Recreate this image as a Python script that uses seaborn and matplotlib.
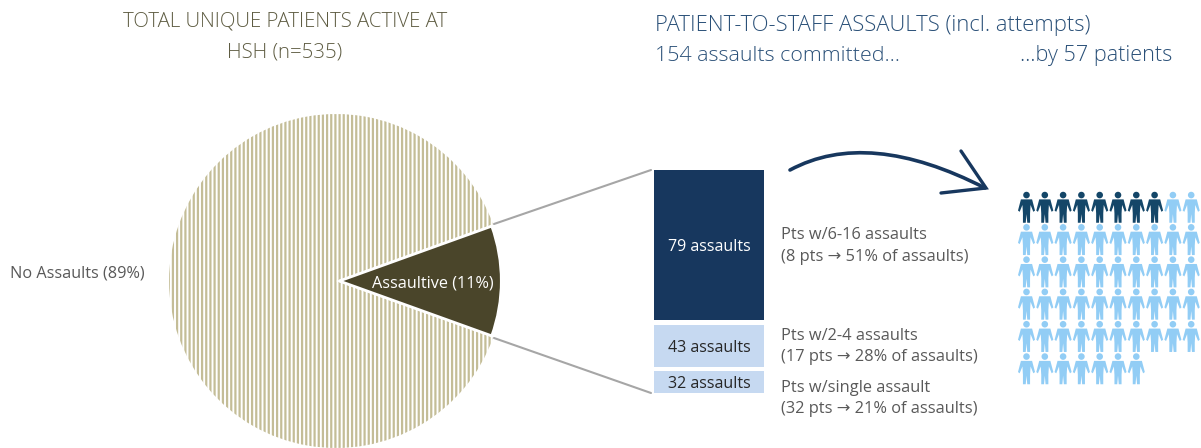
import matplotlib
matplotlib.use('Agg')
import matplotlib.pyplot as plt
import seaborn as sns
import numpy as np
import pandas as pd
from matplotlib.path import Path
from matplotlib.patches import PathPatch

W, H = 1201, 448

# pie
pie_labels = ['Assaultive (11%)', 'No Assaults (89%)']
pie_values = [11, 89]

# stacked column: heights as drawn in the picture (not to scale with the counts)
bar_labels = ['79 assaults', '43 assaults', '32 assaults']
bar_heights = [150, 42, 22]
bar_notes = ['Pts w/6-16 assaults\n(8 pts \u2192 51% of assaults)',
             'Pts w/2-4 assaults\n(17 pts \u2192 28% of assaults)',
             'Pts w/single assault\n(32 pts \u2192 21% of assaults)']

# people
n_repeat = 8
n_other = 49

NAVY = '#17375E'
TAN = '#C4BD97'
DARK = '#4A452A'
PALE = '#C6D9F1'
GREY = '#595959'

sns.set_theme(style='white')
plt.rcParams['font.family'] = ['Open Sans', 'DejaVu Sans']
plt.rcParams['hatch.linewidth'] = 1.6

fig = plt.figure(figsize=(W / 100, H / 100), dpi=100)


def px_axes(x0, y0, x1, y1):
    ax = fig.add_axes([x0 / W, 1 - y1 / H, (x1 - x0) / W, (y1 - y0) / H])
    ax.set_axis_off()
    return ax


# background layer in pixels, for connector lines, arrow and text
bg = px_axes(0, 0, W, H)
bg.set_xlim(0, W)
bg.set_ylim(H, 0)
bg.plot([494, 651], [224, 170], color='#A6A6A6', lw=1.5)
bg.plot([494, 651], [338, 393], color='#A6A6A6', lw=1.5)

curve = Path([(790, 170), (868, 128), (985, 188)], [Path.MOVETO, Path.CURVE3, Path.CURVE3])
bg.add_patch(PathPatch(curve, fc='none', ec=NAVY, lw=2.6, capstyle='round'))
bg.plot([961, 986, 941], [151, 188, 193], color=NAVY, lw=2.4, solid_capstyle='round', solid_joinstyle='miter')

# pie
pie_ax = px_axes(169, 114, 503, 448)
wedges, _ = pie_ax.pie(pie_values, startangle=-19.8, radius=1, explode=[0.02, 0],
                       wedgeprops={'linewidth': 0})
wedges[1].set(facecolor='white', edgecolor=TAN, hatch='||||', linewidth=0, zorder=1)
wedges[0].set(facecolor=DARK, edgecolor='white', linewidth=2, zorder=2)
wedges[0].set_radius(0.97)
pie_ax.set_xlim(-1, 1)
pie_ax.set_ylim(-1, 1)
pie_ax.set_axis_off()

# column
bar_ax = px_axes(654, 170, 764, 393)
bottom = 0
gaps = [0, 5, 4]
for label, h, gap, color, tc in zip(bar_labels, bar_heights, gaps,
                                     [NAVY, PALE, PALE], ['white', '#262626', '#262626']):
    bottom += gap
    sns.barplot(x=[0], y=[h], bottom=bottom, color=color, width=1, saturation=1, ax=bar_ax,
                native_scale=True, linewidth=0)
    bar_ax.text(0, bottom + h / 2 + 1.5, label, color=tc, ha='center', va='center', fontsize=11.5)
    bottom += h
bar_ax.set_xlim(-0.5, 0.5)
bar_ax.set_ylim(bottom, 0)
bar_ax.set_axis_off()

# people icon
body = [
    (-0.22, 0.30), (-0.335, -0.14), (-0.27, -0.19), (-0.16, 0.08), (-0.14, -0.25), (-0.14, -0.62),
    (-0.03, -0.62), (0, -0.28), (0.03, -0.62), (0.14, -0.62), (0.14, -0.25), (0.16, 0.08),
    (0.27, -0.19), (0.335, -0.14), (0.22, 0.30), (-0.22, 0.30),
]
theta = np.linspace(0, 2 * np.pi, 25)
head = [(0.13 * np.cos(t), 0.47 + 0.13 * np.sin(t)) for t in theta]
verts = body + head
codes = [Path.MOVETO] + [Path.LINETO] * (len(body) - 1) + [Path.MOVETO] + [Path.LINETO] * (len(head) - 1)
person = Path(verts, codes)

total = n_repeat + n_other
people = pd.DataFrame({
    'col': np.arange(total) % 10,
    'row': np.arange(total) // 10,
    'group': ['repeat'] * n_repeat + ['other'] * n_other,
})
people_ax = px_axes(1026.5 - 18.3, 207 - 32.3, 1026.5 + 18.3 * 10, 207 + 32.3 * 6)
sns.scatterplot(data=people, x='col', y='row', hue='group', hue_order=['repeat', 'other'],
                palette=['#144668', '#92CDF5'], marker=person, s=515, linewidth=0, legend=False, ax=people_ax)
people_ax.set_xlim(-1, 10)
people_ax.set_ylim(6, -1)
people_ax.set_axis_off()

# text
title_kw = dict(va='center', fontweight='light')
bg.text(285, 21, 'TOTAL UNIQUE PATIENTS ACTIVE AT', color='#5E5C42', fontsize=14.65, ha='center', **title_kw)
bg.text(285, 52, 'HSH (n=535)', color='#5E5C42', fontsize=14.65, ha='center', **title_kw)
bg.text(655, 26, 'PATIENT-TO-STAFF ASSAULTS (incl. attempts)', color='#2A5078', fontsize=15.8, **title_kw)
bg.text(655, 56, '154 assaults committed\u2026', color='#2A5078', fontsize=15.4, **title_kw)
bg.text(1020, 56, '\u2026by 57 patients', color='#2A5078', fontsize=15.6, **title_kw)
bg.text(10, 273, pie_labels[1], color=GREY, fontsize=11.7, va='center', zorder=5)
fig.text(372 / W, 1 - 283 / H, pie_labels[0], color='white', fontsize=11.7, va='center', zorder=5)
for note, y in zip(bar_notes, [246, 346.5, 398.5]):
    bg.text(781, y, note, color=GREY, fontsize=11.8, va='center', linespacing=1.45)

fig.savefig('out.png', dpi=100)
